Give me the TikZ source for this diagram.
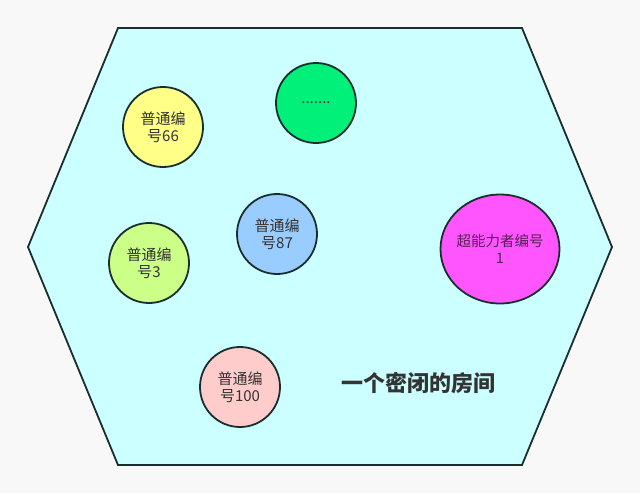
\documentclass[tikz,border=0pt]{standalone}
\usepackage{fontspec}
\usetikzlibrary{shapes.geometric}
\newfontfamily\cjk{Noto Sans CJK SC}
\definecolor{bgc}{HTML}{F8F8F8}
\definecolor{roomc}{HTML}{CCFFFF}
\definecolor{linec}{HTML}{1A2E2E}
\definecolor{yel}{HTML}{FFFF88}
\definecolor{grn}{HTML}{00F07A}
\definecolor{blu}{HTML}{99CCFF}
\definecolor{lgr}{HTML}{CCFF88}
\definecolor{mag}{HTML}{FF55FF}
\definecolor{pnk}{HTML}{FFCCCC}
\definecolor{txt}{HTML}{333333}
\tikzset{
  person/.style={circle, draw=linec, line width=1.8pt, minimum size=80pt, inner sep=0pt, align=center, font=\cjk\fontsize{15}{17.5}\selectfont, text=txt},
}
\begin{document}
\begin{tikzpicture}[x=1pt,y=-1pt]
\fill[bgc] (0,0) rectangle (640,493);
\useasboundingbox (0,0) rectangle (640,493);
\draw[linec, line width=1.8pt, fill=roomc] (118,28) -- (522,28) -- (612,247) -- (522,465) -- (118,465) -- (28,247) -- cycle;
\node[person, fill=yel] (p66) at (163,127) {普通编\\号66};
\node[person, fill=grn] (pdots) at (316,103) {.......};
\node[person, fill=blu] (p87) at (277,234) {普通编\\号87};
\node[person, fill=lgr] (p3) at (149,263) {普通编\\号3};
\node[person, fill=pnk] (p100) at (240,387) {普通编\\号100};
\node[person, fill=mag, ellipse, minimum width=119pt, minimum height=109pt,
  label={[align=center, text=black!65!mag, font=\cjk\fontsize{14.5}{17.5}\selectfont]center:超能力者编号\\1}] (sup) at (500,249) {};
\node[font=\cjk\bfseries\fontsize{22}{24}\selectfont, text=txt] (title) at (418,383) {一个密闭的房间};
\end{tikzpicture}
\end{document}
